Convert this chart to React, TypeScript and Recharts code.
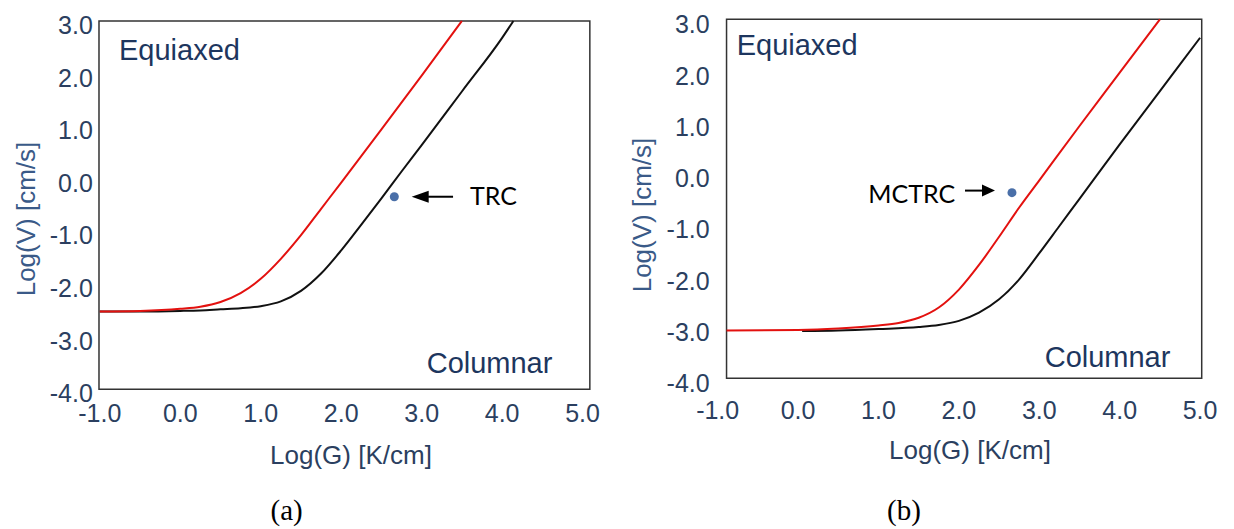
import React from "react";
import {
  LineChart,
  Line,
  XAxis,
  YAxis,
  ReferenceArea,
  ReferenceDot,
  ReferenceLine,
} from "recharts";

// ---- axis ticks ----
const xTicks = [-1, 0, 1, 2, 3, 4, 5];
const yTicks = [-4, -3, -2, -1, 0, 1, 2, 3];

// ---- (a) TRC : Log(G) vs Log(V) ----
const gA_black = [-1.0, -0.5, 0, 0.25, 0.5, 0.75, 1.0, 1.25, 1.5, 1.75, 2.0, 2.25, 2.5, 2.75, 3.0, 3.5, 4.0, 4.14];
const vA_black = [-2.52, -2.52, -2.51, -2.5, -2.48, -2.46, -2.42, -2.33, -2.13, -1.8, -1.36, -0.87, -0.37, 0.14, 0.64, 1.66, 2.68, 3.0];
const gA_red = [-1.0, -0.5, 0, 0.25, 0.5, 0.75, 1.0, 1.25, 1.5, 1.75, 2.0, 2.5, 3.0, 3.5];
const vA_red = [-2.52, -2.51, -2.47, -2.43, -2.34, -2.17, -1.9, -1.52, -1.07, -0.57, -0.07, 0.94, 1.96, 3.0];

// ---- (b) MCTRC ----
const gB_black = [0.05, 0.5, 1.0, 1.5, 1.75, 2.0, 2.25, 2.5, 2.75, 3.0, 3.25, 3.5, 4.0, 4.5, 5.0];
const vB_black = [-3.08, -3.07, -3.04, -3.0, -2.96, -2.88, -2.72, -2.46, -2.07, -1.56, -1.03, -0.5, 0.56, 1.6, 2.64];
const gB_red = [-0.89, 0, 0.5, 1.0, 1.25, 1.5, 1.75, 2.0, 2.25, 2.5, 2.75, 3.0, 3.5, 4.0, 4.5];
const vB_red = [-3.07, -3.06, -3.03, -2.97, -2.92, -2.82, -2.62, -2.27, -1.79, -1.24, -0.67, -0.14, 0.92, 1.96, 3.0];

// ---- experimental points ----
const pointA = { g: 2.66, v: -0.34 };
const pointB = { g: 2.66, v: -0.38 };

const zip = (gs: number[], vs: number[]) => gs.map((g, i) => ({ g, v: vs[i] }));

const SANS = "'Liberation Sans', Arial, sans-serif";
const TICK_COLOR = "#2b3f60";
const NAVY = "#1d365e";
const YTITLE = "#3a5a88";

const makeXTick = (dy: number) => (props: any) => (
  <text
    x={props.x}
    y={props.y + dy}
    textAnchor="middle"
    dominantBaseline="central"
    fontSize={25}
    fontFamily={SANS}
    fill={TICK_COLOR}
  >
    {Number(props.payload.value).toFixed(1)}
  </text>
);

const makeYTick = (dy: number) => (props: any) => (
  <text
    x={props.x}
    y={props.y + dy}
    textAnchor="end"
    dominantBaseline="central"
    fontSize={25}
    fontFamily={SANS}
    fill={TICK_COLOR}
  >
    {Number(props.payload.value).toFixed(1)}
  </text>
);

const arrowHead = (dir: number, len: number, half: number) => (props: any) => {
  const { cx, cy } = props;
  if (cx == null || cy == null) return <g />;
  const bx = cx - dir * len;
  return <polygon points={`${cx},${cy} ${bx},${cy - half} ${bx},${cy + half}`} fill="#000" />;
};

export default function App() {
  return (
    <div style={{ position: "absolute", left: 0, top: 0, width: 1234, height: 529, background: "#fff" }}>
      {/* (a) */}
      <div style={{ position: "absolute", left: 0, top: 0 }}>
        <LineChart width={620} height={529} margin={{ top: 21, right: 37.4, bottom: 99.7, left: 39.8 }}>
          <XAxis
            dataKey="g"
            type="number"
            domain={[-1, 5]}
            ticks={xTicks}
            interval={0}
            axisLine={false}
            tickLine={false}
            tickSize={0}
            tickMargin={0}
            height={40}
            tick={makeXTick(23.7)}
          />
          <YAxis
            dataKey="v"
            type="number"
            domain={[-4, 3]}
            ticks={yTicks}
            interval={0}
            axisLine={false}
            tickLine={false}
            tickSize={0}
            tickMargin={7}
            width={60}
            tick={makeYTick(4)}
          />
          <ReferenceArea x1={-1.01} x2={5.09} y1={-4} y2={3} ifOverflow="visible" fill="none" fillOpacity={0} stroke="#333" strokeWidth={1.5} />
          <Line data={zip(gA_black, vA_black)} dataKey="v" type="monotone" stroke="#111" strokeWidth={2} dot={false} isAnimationActive={false} />
          <Line data={zip(gA_red, vA_red)} dataKey="v" type="monotone" stroke="#e3110f" strokeWidth={2} dot={false} isAnimationActive={false} />
          <ReferenceDot x={pointA.g} y={pointA.v} r={4.5} fill="#4a6fa8" stroke="none" />
          <ReferenceLine segment={[{ x: 3.08, y: -0.34 }, { x: 3.39, y: -0.34 }]} stroke="#000" strokeWidth={2} />
          <ReferenceDot x={2.876} y={-0.34} r={1} shape={arrowHead(-1, 17, 6)} />
        </LineChart>
      </div>

      {/* (b) */}
      <div style={{ position: "absolute", left: 620, top: 0 }}>
        <LineChart width={614} height={529} margin={{ top: 19.3, right: 33.9, bottom: 110.7, left: 37.7 }}>
          <XAxis
            dataKey="g"
            type="number"
            domain={[-1, 5]}
            ticks={xTicks}
            interval={0}
            axisLine={false}
            tickLine={false}
            tickSize={0}
            tickMargin={0}
            height={40}
            tick={makeXTick(31.7)}
          />
          <YAxis
            dataKey="v"
            type="number"
            domain={[-4, 3]}
            ticks={yTicks}
            interval={0}
            axisLine={false}
            tickLine={false}
            tickSize={0}
            tickMargin={8}
            width={60}
            tick={makeYTick(5)}
          />
          <ReferenceArea x1={-0.89} x2={5.02} y1={-4} y2={3} ifOverflow="visible" fill="none" fillOpacity={0} stroke="#333" strokeWidth={1.5} />
          <Line data={zip(gB_black, vB_black)} dataKey="v" type="monotone" stroke="#111" strokeWidth={2} dot={false} isAnimationActive={false} />
          <Line data={zip(gB_red, vB_red)} dataKey="v" type="monotone" stroke="#e3110f" strokeWidth={2} dot={false} isAnimationActive={false} />
          <ReferenceDot x={pointB.g} y={pointB.v} r={4.5} fill="#4a6fa8" stroke="none" />
          <ReferenceLine segment={[{ x: 2.076, y: -0.34 }, { x: 2.29, y: -0.34 }]} stroke="#000" strokeWidth={2} />
          <ReferenceDot x={2.449} y={-0.34} r={1} shape={arrowHead(1, 13, 6)} />
        </LineChart>
      </div>

      {/* text annotations */}
      <svg width={1234} height={529} style={{ position: "absolute", left: 0, top: 0, pointerEvents: "none" }}>
        <g fontFamily={SANS}>
          <text x={119} y={60} fontSize={29} fill={NAVY}>Equiaxed</text>
          <text x={426.7} y={372.7} fontSize={29} fill={NAVY}>Columnar</text>
          <text x={736.7} y={55} fontSize={29} fill={NAVY}>Equiaxed</text>
          <text x={1044.7} y={366.7} fontSize={29} fill={NAVY}>Columnar</text>

          <text x={351} y={455} fontSize={26} fill={TICK_COLOR} textAnchor="middle" dominantBaseline="central">Log(G) [K/cm]</text>
          <text x={970} y={450} fontSize={26} fill={TICK_COLOR} textAnchor="middle" dominantBaseline="central">Log(G) [K/cm]</text>

          <text transform="translate(25.6,219) rotate(-90)" fontSize={26} fill={YTITLE} textAnchor="middle" dominantBaseline="central">Log(V) [cm/s]</text>
          <text transform="translate(642,215) rotate(-90)" fontSize={26} fill={YTITLE} textAnchor="middle" dominantBaseline="central">Log(V) [cm/s]</text>
        </g>
        <g fontFamily="Lato, 'Open Sans', sans-serif" fill="#000">
          <text x={470} y={205} fontSize={25}>TRC</text>
          <text x={868.3} y={202.7} fontSize={25}>MCTRC</text>
        </g>
        <g fontFamily="'Liberation Serif', 'Times New Roman', serif" fill="#000">
          <text x={286.7} y={520} fontSize={29} textAnchor="middle">(a)</text>
          <text x={904} y={520} fontSize={29} textAnchor="middle">(b)</text>
        </g>
      </svg>
    </div>
  );
}
